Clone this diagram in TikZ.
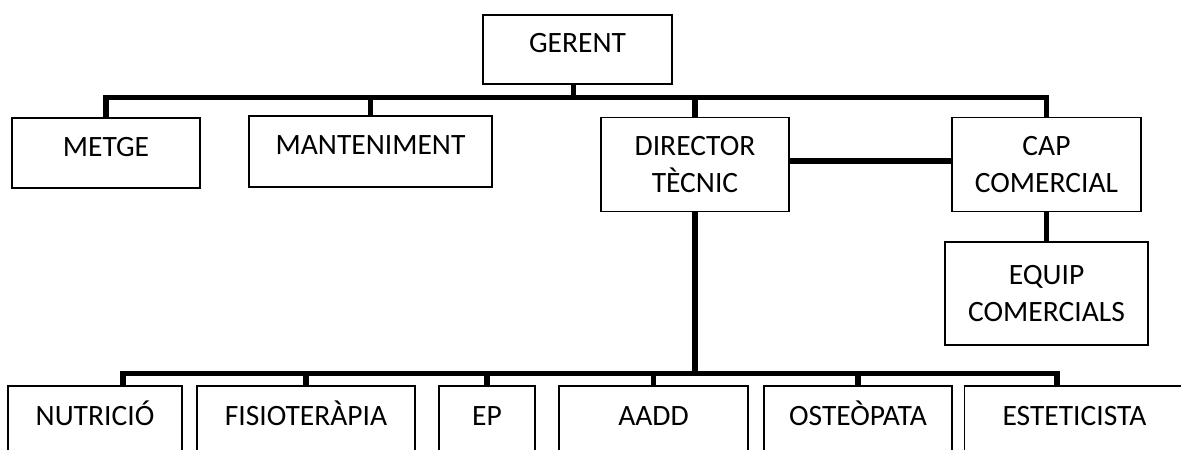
\documentclass[tikz,border=0pt]{standalone}
\usepackage{fontspec}
\setmainfont{Carlito}
\usepackage{tikz}
\usetikzlibrary{calc}

\begin{document}
\begin{tikzpicture}[x=0.02cm, y=-0.02cm,
  font=\fontsize{16.8pt}{21pt}\selectfont,
  cell/.style={rectangle, draw=black, line width=0.6pt, inner sep=0pt, outer sep=0pt, align=center, text height=10.8pt, text depth=7.3pt},
  cell2/.style={rectangle, draw=black, line width=0.6pt, inner sep=0pt, outer sep=0pt, align=center},
  link/.style={draw=black, line width=2.9pt, line join=miter}]
  \useasboundingbox (0,0) rectangle (1181,450);
  \fill[white] (0,0) rectangle (1181,450);
  \clip (0,0) rectangle (1181,450);
  % top level
  \node[cell, minimum width=3.78cm, minimum height=1.38cm] (G) at (577.5,49.5) {GERENT};
  \node[cell, minimum width=3.76cm, minimum height=1.40cm] (met) at (106,153) {METGE};
  \node[cell, minimum width=4.86cm, minimum height=1.42cm] (man) at (370.5,151.5) {MANTENIMENT};
  \node[cell2, minimum width=3.76cm, minimum height=1.88cm] (dt) at (695,164.5) {DIRECTOR\\ TÈCNIC};
  \node[cell2, minimum width=3.78cm, minimum height=1.88cm] (cc) at (1046.5,164.5) {CAP\\ COMERCIAL};
  \node[cell2, minimum width=4.06cm, minimum height=2.06cm] (eq) at (1046.5,293.5) {EQUIP\\ COMERCIALS};
  % bottom row
  \node[cell, minimum width=3.48cm, minimum height=1.44cm] (nut) at (95,422) {NUTRICIÓ};
  \node[cell, minimum width=4.36cm, minimum height=1.44cm] (fis) at (306,422) {FISIOTERÀPIA};
  \node[cell, minimum width=1.92cm, minimum height=1.44cm] (ep) at (487,422) {EP};
  \node[cell, minimum width=3.78cm, minimum height=1.44cm] (aadd) at (653.5,422) {AADD};
  \node[cell, minimum width=3.76cm, minimum height=1.44cm] (ost) at (858,422) {OSTEÒPATA};
  \node[cell, minimum width=4.42cm, minimum height=1.44cm] (est) at (1074.5,422) {ESTETICISTA};
  % buses
  \coordinate (busT) at (0,97.5);
  \coordinate (bl) at (123,373.5);
  \coordinate (br) at (1057,373.5);
  \draw[link] (met.north) |- (busT -| cc.north) -- (cc.north);
  \draw[link] ([xshift=-0.08cm]G.south) -- ([xshift=-0.08cm]G.south |- busT);
  \draw[link] (man.north) -- (man.north |- busT);
  \draw[link] (dt.north) -- (dt.north |- busT);
  \draw[link] ([yshift=0.07cm]dt.east) -- ([yshift=0.07cm]cc.west);
  \draw[link] (cc.south) -- (eq.north);
  \draw[link] (dt.south) -- (dt.south |- bl);
  \draw[link] (bl |- nut.north) -- (bl) -- (br) -- (br |- est.north);
  \draw[link] (fis.north) -- (fis.north |- bl);
  \draw[link] (ep.north) -- (ep.north |- bl);
  \draw[link] (aadd.north) -- (aadd.north |- bl);
  \draw[link] (ost.north) -- (ost.north |- bl);
\end{tikzpicture}
\end{document}
